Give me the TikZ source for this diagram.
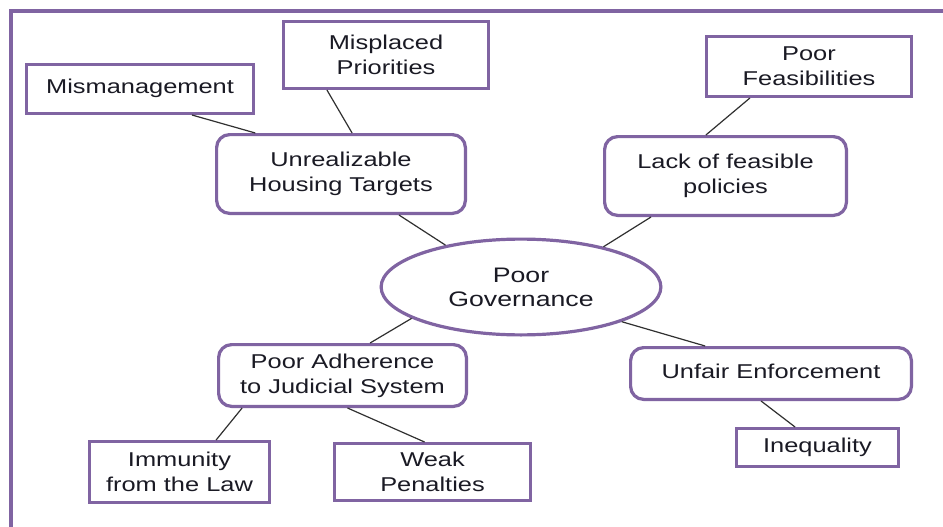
\documentclass[tikz,border=0pt]{standalone}
\usepackage{fontspec}
\setmainfont{Liberation Sans}[FakeStretch=1.27]
\usetikzlibrary{shapes.geometric,calc}
\definecolor{frameviolet}{HTML}{8064A2}
\definecolor{inkdark}{HTML}{1A1A24}
\definecolor{linkgray}{HTML}{303030}
\begin{document}
\begin{tikzpicture}[x=1pt,y=-1pt,
  every node/.style={font=\fontsize{20}{25}\selectfont, text=inkdark, align=center, inner sep=0pt},
  sqbox/.style={draw=frameviolet, line width=3.2pt, fill=white, rectangle},
  rndbox/.style={sqbox, rounded corners=13pt},
  hub/.style={draw=frameviolet, line width=3.2pt, fill=white, ellipse,
    font=\fontsize{21}{24}\selectfont},
  link/.style={draw=linkgray, line width=1.2pt},
  dims/.style n args={2}{minimum width=#1pt-3.2pt, minimum height=#2pt-3.2pt}]
\useasboundingbox (0,0) rectangle (943,527);
\fill[white] (0,0) rectangle (943,527);
% outer frame (only its left and top edges fall on the page)
\draw[frameviolet, line width=3.2pt] (11,527) -- (11,11) -- (943,11);

% centre
\node[hub, dims={283}{99}] (gov) at (521,287) {Poor\\Governance};

% first ring
\node[rndbox, dims={252}{82}] (unreal) at (341,174) {Unrealizable\\Housing Targets};
\node[rndbox, dims={245}{82}] (lack) at (725.5,176) {Lack of feasible\\policies};
\node[rndbox, dims={251}{65}] (adh) at (342.5,375.5) {Poor Adherence\\to Judicial System};
\node[rndbox, dims={284}{55}] (unfair) at (771,373.5) {\raisebox{5pt}{Unfair Enforcement}};

% outer ring
\node[sqbox, dims={230}{52}] (mism) at (140,89) {\raisebox{6pt}{Mismanagement}};
\node[sqbox, dims={208}{70}] (misp) at (386,55) {Misplaced\\Priorities};
\node[sqbox, dims={208}{63}] (feas) at (809,66.5) {Poor\\Feasibilities};
\node[sqbox, dims={165}{41}] (ineq) at (817.5,447.5) {\raisebox{2pt}{Inequality}};
\node[sqbox, dims={183}{64}] (imm) at (179.5,472) {Immunity\\from the Law};
\node[sqbox, dims={199}{60}] (weak) at (432.5,472) {Weak\\Penalties};

% connectors
\draw[link] ($(mism.south west)!0.726!(mism.south east)$) -- ($(unreal.north west)!0.16!(unreal.north east)$);
\draw[link] ($(misp.south west)!0.216!(misp.south east)$) -- ($(unreal.north west)!0.544!(unreal.north east)$);
\draw[link] ($(unreal.south west)!0.73!(unreal.south east)$) -- (gov.151.6);
\draw[link] ($(lack.south west)!0.196!(lack.south east)$) -- (gov.26);
\draw[link] ($(feas.south west)!0.216!(feas.south east)$) -- ($(lack.north west)!0.42!(lack.north east)$);
\draw[link] (gov.196.7) -- ($(adh.north west)!0.61!(adh.north east)$);
\draw[link] (gov.-19.1) -- ($(unfair.north west)!0.268!(unfair.north east)$);
\draw[link] ($(unfair.south west)!0.465!(unfair.south east)$) -- ($(ineq.north west)!0.364!(ineq.north east)$);
\draw[link] ($(adh.south west)!0.1!(adh.south east)$) -- ($(imm.north west)!0.70!(imm.north east)$);
\draw[link] ($(adh.south west)!0.52!(adh.south east)$) -- ($(weak.north west)!0.46!(weak.north east)$);
\end{tikzpicture}
\end{document}
